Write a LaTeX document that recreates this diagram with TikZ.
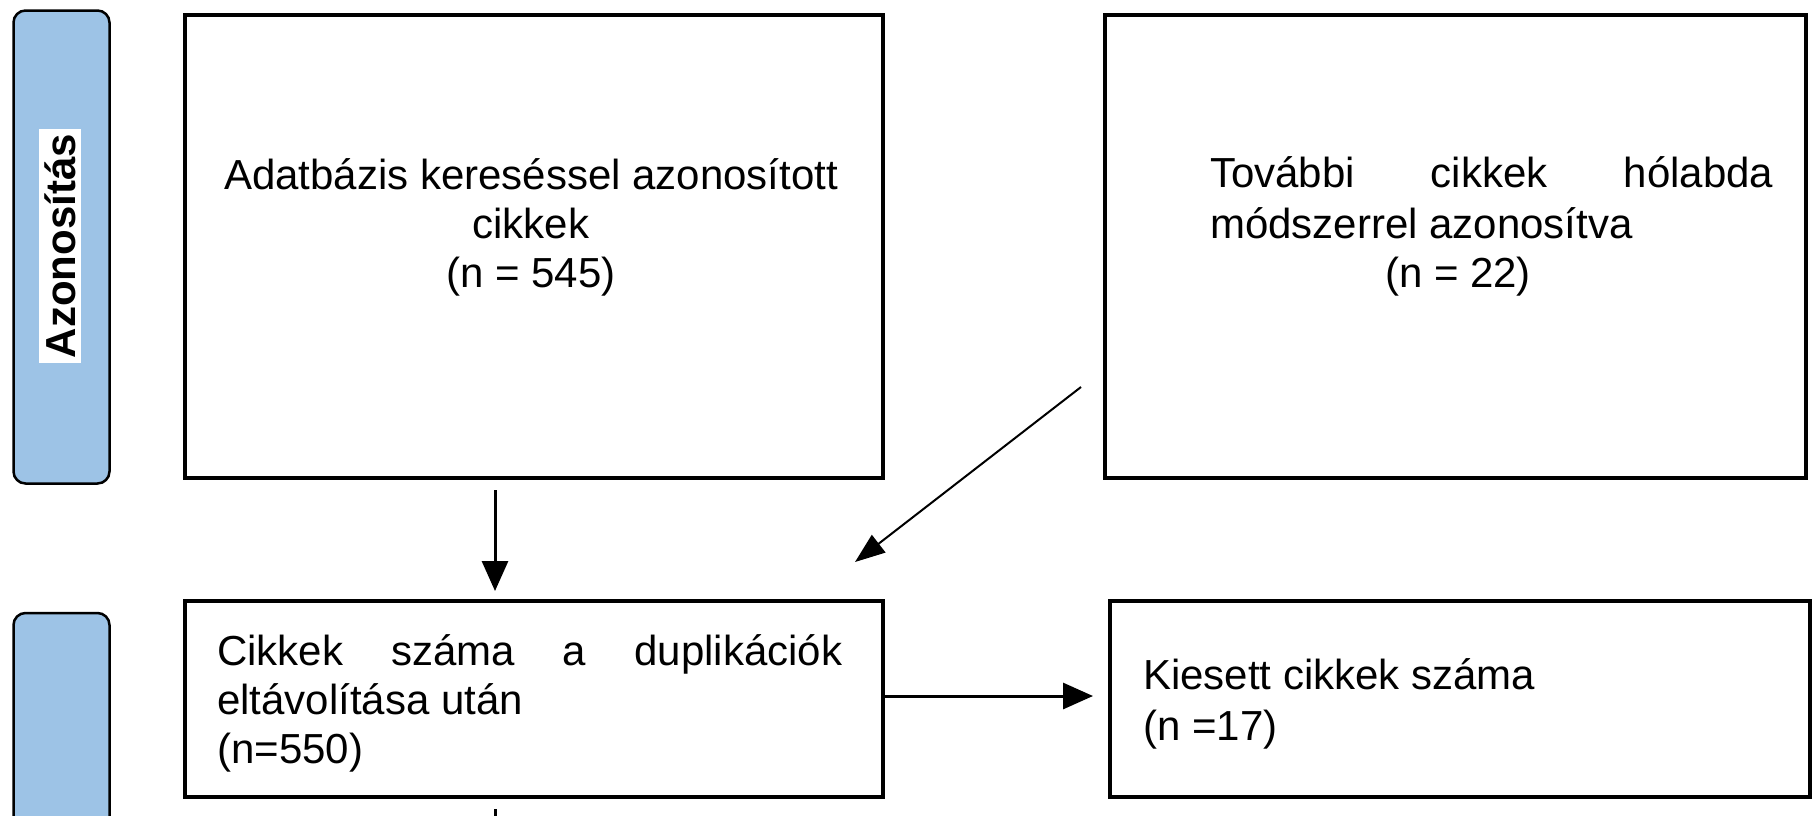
\documentclass[tikz,border=0pt]{standalone}
\usepackage{fontspec}
\setmainfont{Liberation Sans}
\usetikzlibrary{arrows.meta}
\definecolor{phaseblue}{RGB}{157,195,230}
\begin{document}
\begin{tikzpicture}[x=1pt,y=-1pt,
  box/.style={draw=black, line width=4pt, rectangle, inner sep=0pt},
  phase/.style={draw=black, line width=2.5pt, fill=phaseblue, rounded corners=12pt, inner sep=0pt, minimum width=96pt},
  phaselabel/.style={fill=white, rotate=90, inner sep=5pt, font=\fontsize{42}{49}\selectfont\bfseries},
  txt/.style={inner sep=0pt, font=\fontsize{42}{49}\selectfont},
  conn/.style={line width=3pt, -{Triangle[length=30pt,width=26pt]}},
  thinconn/.style={line width=2pt, -{Triangle[length=30pt,width=22pt]}},
  stubline/.style={line width=3pt},
]
\useasboundingbox (0,0) rectangle (1814,815);
\clip (0,0) rectangle (1814,815);

% phase bars
\node[phase, minimum height=473pt] (ph1) at (61.5,247) {};
\node[phaselabel] (ph1t) at (60,246) {Azonosítás};
\node[phase, minimum height=473pt] (ph2) at (61.5,849.5) {};

% boxes
\node[box, minimum width=698pt, minimum height=463pt] (b1) at (534,246.5) {};
\node[box, minimum width=701pt, minimum height=463pt] (b2) at (1455.5,246.5) {};
\node[box, minimum width=698pt, minimum height=196pt] (b3) at (534,699) {};
\node[box, minimum width=700pt, minimum height=196pt] (b4) at (1460,699) {};

% texts
\node[txt, anchor=base] (t1a) at (531,189) {Adatbázis kereséssel azonosított};
\node[txt, anchor=base] (t1b) at (531,238) {cikkek};
\node[txt, anchor=base] (t1c) at (531,287) {(n = 545)};

\node[txt, anchor=base west] (t2a) at (1210,187) {\hbox to 563pt{További\hfill cikkek\hfill hólabda}};
\node[txt, anchor=base west] (t2b) at (1210,238) {módszerrel azonosítva};
\node[txt, anchor=base] (t2c) at (1458,287) {(n = 22)};

\node[txt, anchor=base west] (t3a) at (217,665) {\hbox to 625pt{Cikkek\hfill száma\hfill a\hfill duplikációk}};
\node[txt, anchor=base west] (t3b) at (217,714) {eltávolítása után};
\node[txt, anchor=base west] (t3c) at (217,763) {(n=550)};

\node[txt, anchor=base west] (t4a) at (1143,689) {Kiesett cikkek száma};
\node[txt, anchor=base west] (t4b) at (1143,740) {(n =17)};

% connectors
\draw[conn] ([xshift=-39pt,yshift=-10pt]b1.south) -- ([xshift=-39pt,yshift=8pt]b3.north);
\draw[conn] ([yshift=3pt]b3.east) -- ([xshift=-15pt,yshift=3pt]b4.west);
\coordinate (d1) at (1081,387);
\coordinate (d2) at (855,562);
\draw[thinconn] (d1) -- (d2);
\coordinate (stub) at (495,830);
\draw[stubline] ([xshift=-39pt,yshift=-10pt]b3.south) -- (stub);
\end{tikzpicture}
\end{document}
